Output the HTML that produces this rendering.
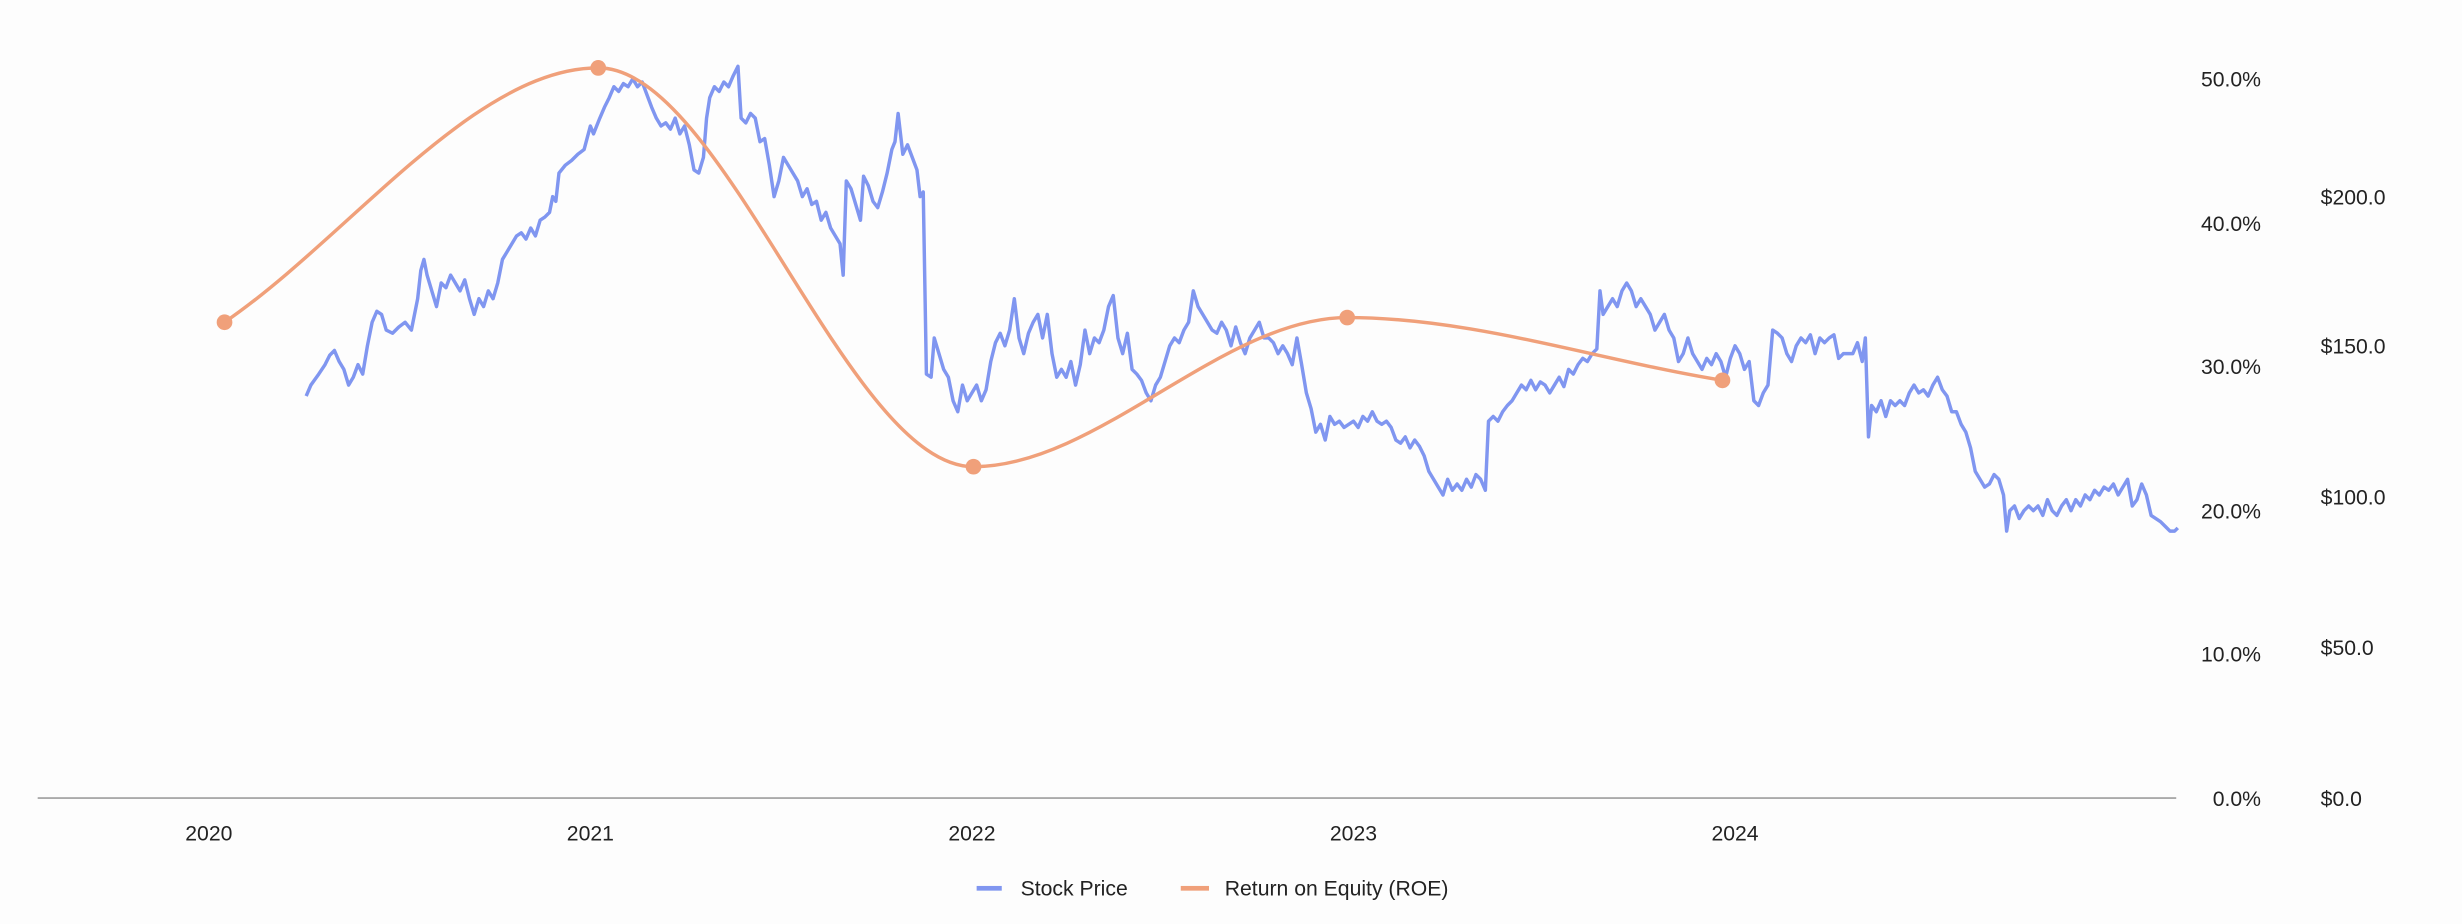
<!DOCTYPE html>
<html><head><meta charset="utf-8"><style>
html,body{margin:0;padding:0;background:#fdfdfd;}
svg{display:block;}
text{font-family:"Liberation Sans",sans-serif;fill:#222;}
</style></head><body>
<svg width="2462" height="924" viewBox="0 0 1568 588" xmlns="http://www.w3.org/2000/svg">
<rect width="1568" height="588" fill="#fdfdfd"/>
<line x1="24" y1="508" x2="1386" y2="508" stroke="#aaa" stroke-width="1.2"/>
<g font-size="13.5" text-anchor="end">
<text x="1440" y="55">50.0%</text>
<text x="1440" y="147">40.0%</text>
<text x="1440" y="238">30.0%</text>
<text x="1440" y="330">20.0%</text>
<text x="1440" y="421">10.0%</text>
<text x="1440" y="513">0.0%</text>
</g>
<g font-size="13.5">
<text x="1478" y="130">$200.0</text>
<text x="1478" y="225">$150.0</text>
<text x="1478" y="321">$100.0</text>
<text x="1478" y="417">$50.0</text>
<text x="1478" y="513">$0.0</text>
</g>
<g font-size="13.5" text-anchor="middle">
<text x="133" y="535">2020</text>
<text x="376" y="535">2021</text>
<text x="619" y="535">2022</text>
<text x="862" y="535">2023</text>
<text x="1105" y="535">2024</text>
</g>
<polyline fill="none" stroke="#8096f0" stroke-width="2.2" stroke-linejoin="round" points="195,252 198,245 203,238 207,232 210,226 213,223 216,230 219,235 222,245 225,240 228,232 231,238 234,220 237,205 240,198 243,200 246,210 250,212 254,208 258,205 262,210 266,190 268,172 270,165 272,175 275,185 278,195 281,180 284,183 287,175 290,180 293,185 296,178 299,190 302,200 305,190 308,195 311,185 314,190 317,180 320,165 323,160 326,155 329,150 332,148 335,152 338,145 341,150 344,140 347,138 350,135 352,125 354,128 356,110 360,105 364,102 368,98 372,95 376,80 378,85 382,75 385,68 388,62 391,55 394,58 397,53 400,55 403,50 406,55 409,52 412,60 415,68 418,75 421,80 424,78 427,82 430,75 433,85 436,80 439,92 442,108 445,110 448,100 450,75 452,62 455,55 458,58 461,52 464,55 467,48 470,42 472,75 475,78 478,72 481,75 484,90 487,88 490,105 493,125 496,115 499,100 502,105 505,110 508,115 511,125 514,120 517,130 520,128 523,140 526,135 529,145 532,150 535,155 537,175 539,115 542,120 545,130 548,140 550,112 553,118 556,128 559,132 562,122 565,110 568,95 570,90 572,72 575,98 578,92 581,100 584,108 586,125 588,122 590,238 593,240 595,215 598,225 601,235 604,240 607,255 610,262 613,245 616,255 619,250 622,245 625,255 628,248 631,230 634,218 637,212 640,220 643,210 646,190 649,215 652,225 655,212 658,205 661,200 664,215 667,200 670,225 673,240 676,235 679,240 682,230 685,245 688,232 691,210 694,225 697,215 700,218 703,210 706,195 709,188 712,215 715,225 718,212 721,235 724,238 727,242 730,250 733,255 736,245 739,240 742,230 745,220 748,215 751,218 754,210 757,205 760,185 763,195 766,200 769,205 772,210 775,212 778,205 781,210 784,220 787,208 790,218 793,225 796,215 799,210 802,205 805,215 808,215 811,218 814,225 817,220 820,225 823,232 826,215 829,232 832,250 835,260 838,275 841,270 844,280 847,265 850,270 853,268 856,272 859,270 862,268 865,272 868,265 871,268 874,262 877,268 880,270 883,268 886,272 889,280 892,282 895,278 898,285 901,280 904,284 907,290 910,300 913,305 916,310 919,315 922,305 925,312 928,308 931,312 934,305 937,310 940,302 943,305 946,312 948,268 951,265 954,268 957,262 960,258 963,255 966,250 969,245 972,248 975,242 978,248 981,243 984,245 987,250 990,245 993,240 996,246 999,235 1002,238 1005,232 1008,228 1011,230 1014,225 1017,222 1019,185 1021,200 1024,195 1027,190 1030,195 1033,185 1036,180 1039,185 1042,195 1045,190 1048,195 1051,200 1054,210 1057,205 1060,200 1063,210 1066,215 1069,230 1072,225 1075,215 1078,225 1081,230 1084,235 1087,228 1090,232 1093,225 1096,230 1099,240 1102,228 1105,220 1108,225 1111,235 1114,230 1117,255 1120,258 1123,250 1126,245 1129,210 1132,212 1135,215 1138,225 1141,230 1144,220 1147,215 1150,218 1153,213 1156,225 1159,215 1162,218 1165,215 1168,213 1171,228 1174,225 1177,225 1180,225 1183,218 1186,230 1188,215 1190,278 1192,258 1195,262 1198,255 1201,265 1204,255 1207,258 1210,255 1213,258 1216,250 1219,245 1222,250 1225,248 1228,252 1231,245 1234,240 1237,248 1240,252 1243,262 1246,262 1249,270 1252,275 1255,285 1258,300 1261,305 1264,310 1267,308 1270,302 1273,305 1276,315 1278,338 1280,325 1283,322 1286,330 1289,325 1292,322 1295,325 1298,322 1301,328 1304,318 1307,325 1310,328 1313,322 1316,318 1319,325 1322,318 1325,322 1328,315 1331,318 1334,312 1337,315 1340,310 1343,312 1346,308 1349,315 1352,310 1355,305 1358,322 1361,318 1364,308 1367,315 1370,328 1373,330 1376,332 1379,335 1382,338 1385,338 1387,336"/>
<path fill="none" stroke="#f0a07a" stroke-width="2.2" d="M143,205 C222,151 302,43 381,43 C461,43 540,297 620,297 C699,297 779,202 858,202 C938,202 1017,229 1097,242"/>
<g fill="#f0a07a">
<circle cx="143" cy="205" r="5"/>
<circle cx="381" cy="43" r="5"/>
<circle cx="620" cy="297" r="5"/>
<circle cx="858" cy="202" r="5"/>
<circle cx="1097" cy="242" r="5"/>
</g>
<rect x="622" y="564" width="16" height="3" fill="#8096f0"/>
<text x="650" y="570" font-size="13.5">Stock Price</text>
<rect x="752" y="564" width="18" height="3" fill="#f0a07a"/>
<text x="780" y="570" font-size="13.5">Return on Equity (ROE)</text>
</svg>
</body></html>
